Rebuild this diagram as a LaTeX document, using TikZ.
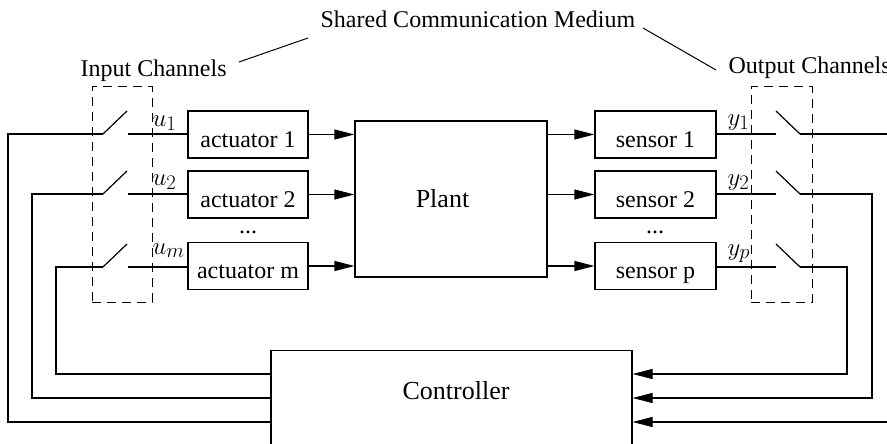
\documentclass[tikz,border=0pt]{standalone}
\usepackage{fontspec}
\setmainfont{Liberation Serif}
\usetikzlibrary{arrows.meta}
\begin{document}
\begin{tikzpicture}[x=1pt,y=-1pt, line width=1.2pt,
  box/.style={draw, rectangle, inner sep=0pt, text height=25pt, text depth=0pt, font=\fontsize{24}{28}\selectfont},
  lbl/.style={inner sep=0pt, font=\fontsize{24}{28}\selectfont},
  big/.style={inner sep=0pt, font=\fontsize{26}{30}\selectfont, anchor=base},
  mlbl/.style={inner sep=0pt, font=\fontsize{30}{34}\selectfont, anchor=base west},
  arr/.style={-{Triangle[length=20pt,width=10pt]}},
  chan/.style={draw, dash pattern=on 9pt off 6pt, line width=1pt, inner sep=0pt}]
\useasboundingbox (0,0) rectangle (887,444);
\clip (0,0) rectangle (887,444);

% channel boxes
\node[chan, minimum width=60pt, minimum height=215pt] (inbox) at (122,194.5) {};
\node[chan, minimum width=61pt, minimum height=215pt] (outbox) at (781.5,194.5) {};

% blocks
\node[box, minimum width=120pt, minimum height=47pt] (a1) at (248,134.5) {actuator 1};
\node[box, minimum width=120pt, minimum height=47pt] (a2) at (248,194.5) {actuator 2};
\node[box, minimum width=120pt, minimum height=47pt] (am) at (248,266) {actuator m};
\node[box, minimum width=192pt, minimum height=156pt] (plant) at (451,199) {};
\node[big] (planttxt) at (442.5,207) {Plant};
\node[box, minimum width=121pt, minimum height=47pt] (s1) at (655.5,134.5) {sensor 1};
\node[box, minimum width=121pt, minimum height=47pt] (s2) at (655.5,194.5) {sensor 2};
\node[box, minimum width=121pt, minimum height=47pt] (sp) at (655.5,266) {sensor p};
\node[box, minimum width=361pt, minimum height=130pt, anchor=north] (ctrl) at (451.5,350) {};
\node[big] (ctrltxt) at (456,399) {Controller};

% dots
\node[lbl, anchor=base] (d1) at (248,233) {...};
\node[lbl, anchor=base] (d2) at (655,233) {...};

% labels
\node[lbl, anchor=base west] (inch) at (80,77) {Input Channels};
\node[lbl, anchor=base west] (outch) at (728,74) {Output Channels};
\node[lbl, anchor=base west] (shared) at (320,28) {Shared Communication Medium};
\coordinate (l1a) at (239,62);
\coordinate (l1b) at (308,38);
\coordinate (l2a) at (643,28);
\coordinate (l2b) at (716,70);
\draw[line width=1pt] (l1a) -- (l1b);
\draw[line width=1pt] (l2a) -- (l2b);

\node[mlbl] (u1) at (152,126) {$u_1$};
\node[mlbl] (u2) at (152,185) {$u_2$};
\node[mlbl] (um) at (152,254) {$u_m$};
\node[mlbl] (y1) at (727,125) {$y_1$};
\node[mlbl] (y2) at (727,185) {$y_2$};
\node[mlbl] (yp) at (727,255) {$y_p$};

% actuator -> plant -> sensor arrows
\draw[arr] (a1.east) -- (plant.west |- a1.east);
\draw[arr] (a2.east) -- (plant.west |- a2.east);
\draw[arr] (am.east) -- (plant.west |- am.east);
\draw[arr] (plant.east |- s1.west) -- (s1.west);
\draw[arr] (plant.east |- s2.west) -- (s2.west);
\draw[arr] (plant.east |- sp.west) -- (sp.west);

% input switches
\coordinate (ip1) at (103,134); \coordinate (it1) at (127,111); \coordinate (ic1) at (128,134);
\coordinate (ip2) at (103,194); \coordinate (it2) at (127,171); \coordinate (ic2) at (128,194);
\coordinate (ipm) at (103,267); \coordinate (itm) at (127,244); \coordinate (icm) at (128,267);
\draw (ip1) -- (it1); \draw (ic1) -- (a1.west |- ic1);
\draw (ip2) -- (it2); \draw (ic2) -- (a2.west |- ic2);
\draw (ipm) -- (itm); \draw (icm) -- (am.west |- icm);
\coordinate (fb1) at (8,422);
\coordinate (fb2) at (32,398);
\coordinate (fbm) at (56,374);
\draw (ctrl.west |- fb1) -- (fb1) |- (ip1);
\draw (ctrl.west |- fb2) -- (fb2) |- (ip2);
\draw (ctrl.west |- fbm) -- (fbm) |- (ipm);

% output switches
\coordinate (oc1) at (776,134); \coordinate (ot1) at (776,111); \coordinate (op1) at (800,134);
\coordinate (oc2) at (776,194); \coordinate (ot2) at (776,171); \coordinate (op2) at (800,194);
\coordinate (ocp) at (776,267); \coordinate (otp) at (776,244); \coordinate (opp) at (800,267);
\draw (s1.east |- oc1) -- (oc1); \draw (ot1) -- (op1);
\draw (s2.east |- oc2) -- (oc2); \draw (ot2) -- (op2);
\draw (sp.east |- ocp) -- (ocp); \draw (otp) -- (opp);
\coordinate (gb1) at (897,422);
\coordinate (gb2) at (872,398);
\coordinate (gbp) at (847,374);
\draw[arr] (op1) -| (gb1) -- (ctrl.east |- gb1);
\draw[arr] (op2) -| (gb2) -- (ctrl.east |- gb2);
\draw[arr] (opp) -| (gbp) -- (ctrl.east |- gbp);
\end{tikzpicture}
\end{document}
